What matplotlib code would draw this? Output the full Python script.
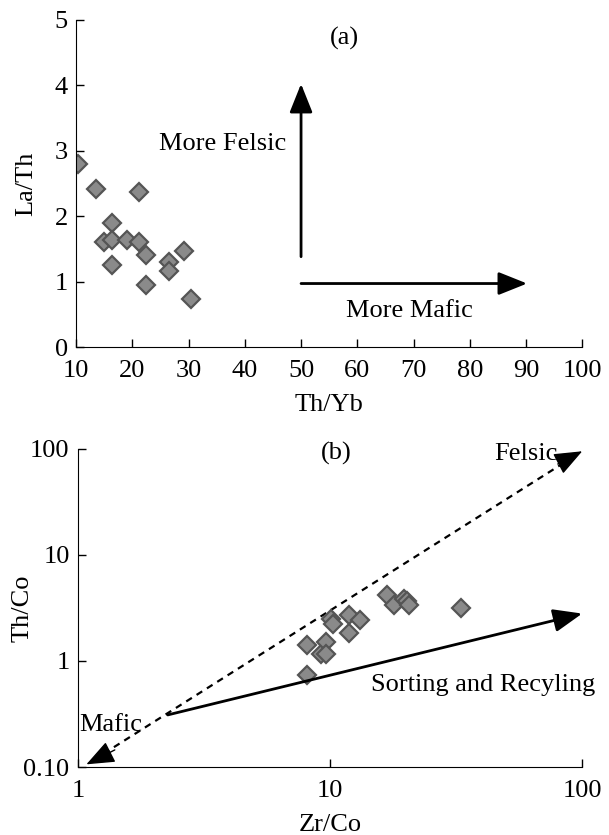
import matplotlib.pyplot as plt
from matplotlib.ticker import FixedLocator, FixedFormatter, NullLocator

plt.rcParams['font.family'] = ['Liberation Serif', 'DejaVu Serif']

# panel (a): Th/Yb vs La/Th
th_yb = [10.4, 13.5, 21.2, 16.4, 14.9, 16.4, 19.0, 21.2, 22.4, 16.4, 26.5, 26.5, 29.2, 22.4, 30.4]
la_th = [2.80, 2.41, 2.37, 1.90, 1.60, 1.63, 1.63, 1.60, 1.41, 1.25, 1.30, 1.16, 1.47, 0.95, 0.73]

# panel (b): Zr/Co vs Th/Co
zr_co = [8.1, 8.1, 9.2, 9.6, 9.6, 10.1, 10.3, 11.9, 11.9, 13.1, 16.8, 17.9, 19.7, 20.1, 20.6, 33.0]
th_co = [1.41, 0.73, 1.17, 1.51, 1.17, 2.51, 2.25, 2.70, 1.84, 2.45, 4.17, 3.35, 3.87, 3.66, 3.35, 3.19]

fs = 19
mk = dict(marker='D', ls='none', ms=9.5, mfc='#8a8a8a', mec='#555555', mew=1.6)

fig = plt.figure(figsize=(6.09, 8.35), dpi=100)
ax1 = fig.add_axes([0.125, 0.5844, 0.831, 0.392])
ax2 = fig.add_axes([0.128, 0.0814, 0.828, 0.381])

for ax in (ax1, ax2):
    ax.spines['top'].set_visible(False)
    ax.spines['right'].set_visible(False)
    ax.tick_params(direction='in', length=6, width=1, labelsize=fs, pad=6)
    ax.tick_params(axis='x', pad=9)

# (a)
ax1.plot(th_yb, la_th, **mk)
ax1.set_xlim(10, 100)
ax1.set_ylim(0, 5)
ax1.set_xticks(range(10, 101, 10))
ax1.set_yticks(range(0, 6))
ax1.set_xlabel('Th/Yb', fontsize=fs, labelpad=9)
ax1.set_ylabel('La/Th', fontsize=fs)
ax1.yaxis.set_label_coords(-0.077, 0.5)
arr = dict(arrowstyle='-|>,head_length=0.8,head_width=0.32', color='black', lw=2,
           mutation_scale=22, shrinkA=0, shrinkB=0)
ax1.annotate('', xy=(50, 4.02), xytext=(50, 1.38), arrowprops=arr)
ax1.annotate('', xy=(90.2, 0.97), xytext=(50, 0.97), arrowprops=arr)
ax1.text(57.7, 4.72, '(a)', fontsize=fs, ha='center', va='center')
ax1.text(36, 3.1, 'More Felsic', fontsize=fs, ha='center', va='center')
ax1.text(69.3, 0.55, 'More Mafic', fontsize=fs, ha='center', va='center')

# (b)
ax2.set_xscale('log')
ax2.set_yscale('log')
ax2.set_xlim(1, 100)
ax2.set_ylim(0.1, 100)
ax2.xaxis.set_major_locator(FixedLocator([1, 10, 100]))
ax2.xaxis.set_major_formatter(FixedFormatter(['1', '10', '100']))
ax2.yaxis.set_major_locator(FixedLocator([0.1, 1, 10, 100]))
ax2.yaxis.set_major_formatter(FixedFormatter(['0.10', '1', '10', '100']))
ax2.xaxis.set_minor_locator(NullLocator())
ax2.yaxis.set_minor_locator(NullLocator())
ax2.set_xlabel('Zr/Co', fontsize=fs, labelpad=9)
ax2.set_ylabel('Th/Co', fontsize=fs)
ax2.yaxis.set_label_coords(-0.089, 0.5)

# dashed mafic-felsic line with heads at both ends
ax2.plot([1.15, 95], [0.116, 88], ls=(0, (3, 2.5)), color='black', lw=1.6, clip_on=False)
head = dict(arrowstyle='-|>,head_length=0.8,head_width=0.32', color='black', lw=1,
            mutation_scale=22, shrinkA=0, shrinkB=0)
ax2.annotate('', xy=(100, 95), xytext=(80, 72), arrowprops=head, annotation_clip=False)
ax2.annotate('', xy=(1.08, 0.106), xytext=(1.4, 0.145), arrowprops=head, annotation_clip=False)
# sorting and recycling arrow
ax2.annotate('', xy=(100, 2.8), xytext=(2.27, 0.31), arrowprops=arr, annotation_clip=False)

ax2.plot(zr_co, th_co, **mk)
ax2.text(10.6, 90, '(b)', fontsize=fs, ha='center', va='center')
ax2.text(60, 90, 'Felsic', fontsize=fs, ha='center', va='center')
ax2.text(1.35, 0.25, 'Mafic', fontsize=fs, ha='center', va='center')
ax2.text(40.5, 0.59, 'Sorting and Recyling', fontsize=fs, ha='center', va='center')

fig.savefig('out.png', dpi=100)
